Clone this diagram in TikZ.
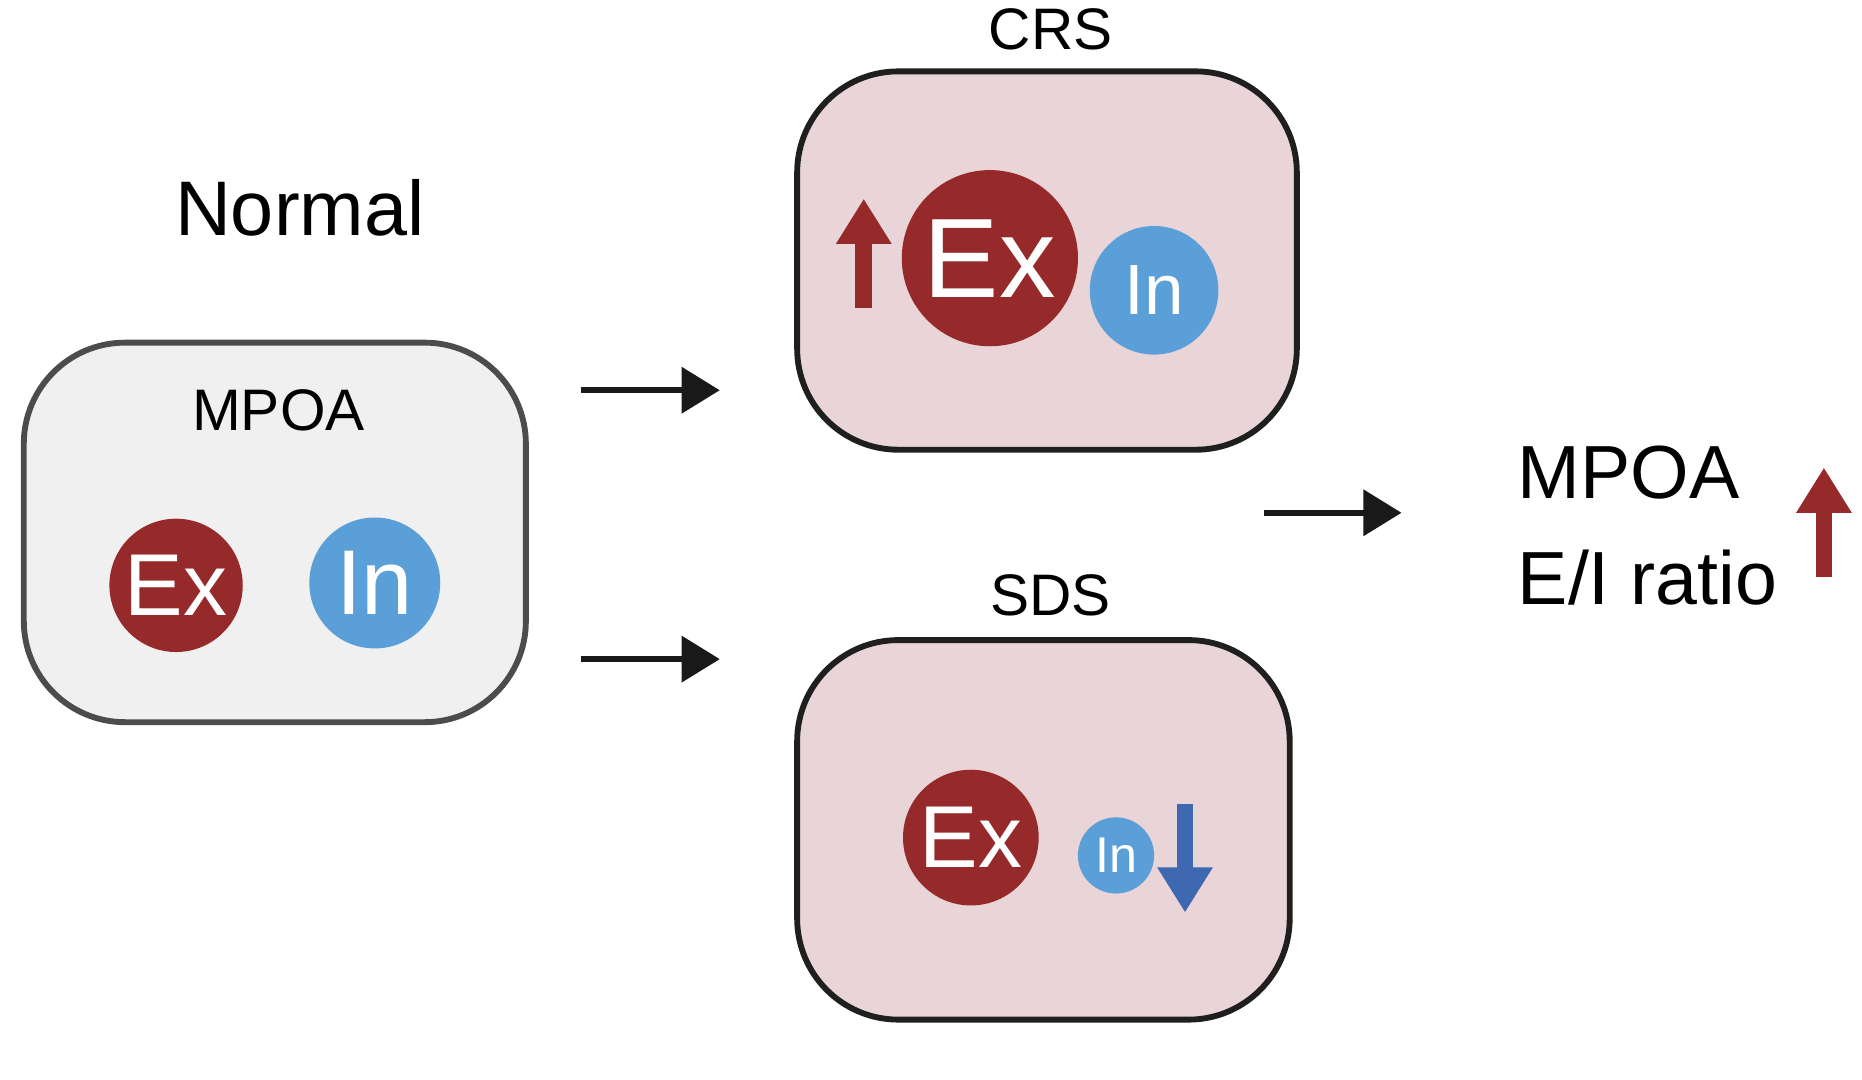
\documentclass[tikz,border=0pt]{standalone}
\usepackage{fontspec}
\setmainfont{Liberation Sans}
\usetikzlibrary{arrows.meta, positioning}
\definecolor{exred}{HTML}{962A2B}
\definecolor{inblue}{HTML}{5B9FD8}
\definecolor{downblue}{HTML}{3E68B0}
\definecolor{boxgray}{HTML}{EFF0EF}
\definecolor{boxpink}{HTML}{E9D4D7}
\begin{document}
\begin{tikzpicture}[
        x = 0.01cm, y = -0.01cm, % one unit per pixel
        region/.style = {draw, line width = 1.4pt, rounded corners = 0.85cm},
        excell/.style = {circle, fill = exred, text = white, inner sep = 0pt},
        incell/.style = {circle, fill = inblue, text = white, inner sep = 0pt},
        stage/.style = {-{Triangle[length = 0.32cm, width = 0.38cm]}, line width = 1.4pt, black!90},
        fat/.style = {-{Triangle[length = 0.38cm, width = 0.44cm]}, line width = 0.14cm}
    ]
    \useasboundingbox (0,0) rectangle (1565,907);

    % normal
    \node[font = \fontsize{18.5}{22}\selectfont] (normal) at (252,175) {Normal};
    \draw[region, draw = black!70, fill = boxgray] (20,288) rectangle (442,607);
    \node[font = \fontsize{14}{17}\selectfont] (mpoa) at (234,345) {MPOA};
    \node[excell, minimum size = 1.12cm, font = \fontsize{21}{24}\selectfont] (ex0) at (148,492) {Ex};
    \node[incell, minimum size = 1.10cm, font = \fontsize{22}{24}\selectfont] (in0) at (315,490) {In};

    % CRS
    \node[font = \fontsize{14}{17}\selectfont] (crs) at (883,25) {CRS};
    \draw[region, draw = black!88, fill = boxpink] (670,60) rectangle (1090,378);
    \node[excell, minimum size = 1.48cm, font = \fontsize{27}{30}\selectfont] (ex1) at (832,217) {Ex};
    \node[incell, minimum size = 1.08cm, font = \fontsize{17}{20}\selectfont] (in1) at (970,244) {In};
    \coordinate (up1a) at (726,259);
    \coordinate (up1b) at (726,167);
    \draw[fat, exred] (up1a) -- (up1b);

    % SDS
    \node[font = \fontsize{14}{17}\selectfont] (sds) at (883,500) {SDS};
    \draw[region, draw = black!88, fill = boxpink] (670,538) rectangle (1084,857);
    \node[excell, minimum size = 1.14cm, font = \fontsize{21}{24}\selectfont] (ex2) at (816,704) {Ex};
    \node[incell, minimum size = 0.64cm, font = \fontsize{12}{14}\selectfont] (in2) at (938,719) {In};
    \coordinate (dn2a) at (996,676);
    \coordinate (dn2b) at (996,767);
    \draw[fat, downblue] (dn2a) -- (dn2b);

    % result
    \node[font = \fontsize{18}{23}\selectfont, align = left, anchor = west, inner sep = 0pt] (ratio) at (1275,442) {MPOA\\[0.08cm]E/I ratio};
    \coordinate (up3a) at (1533,485);
    \coordinate (up3b) at (1533,393);
    \draw[fat, exred] (up3a) -- (up3b);

    % stages
    \coordinate (s1a) at (488,328); \coordinate (s1b) at (605,328);
    \coordinate (s2a) at (488,554); \coordinate (s2b) at (605,554);
    \coordinate (s3a) at (1062,431); \coordinate (s3b) at (1178,431);
    \draw[stage] (s1a) -- (s1b);
    \draw[stage] (s2a) -- (s2b);
    \draw[stage] (s3a) -- (s3b);
\end{tikzpicture}
\end{document}
